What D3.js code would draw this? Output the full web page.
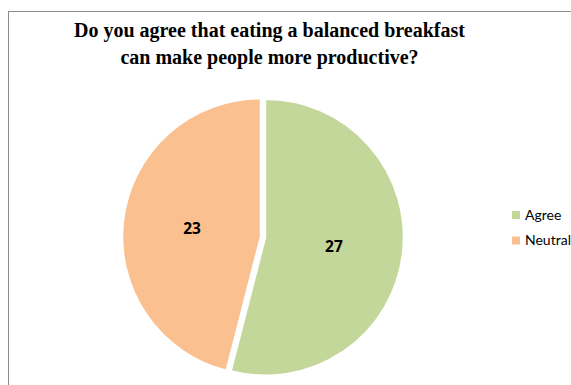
<!DOCTYPE html>
<html>
<head>
<meta charset="utf-8">
<script src="https://cdn.jsdelivr.net/npm/d3@7"></script>
<style>
  html, body { margin: 0; padding: 0; background: #fff; }
  svg { display: block; }
</style>
</head>
<body>
<svg id="chart" width="571" height="385"></svg>
<script>
// Survey answers
const categories = ["Agree", "Neutral"];
const counts = [27, 23];
const colors = ["#c4d79b", "#fac090"];
const titleLines = [
  "Do you agree that eating a balanced breakfast",
  "can make people more productive?"
];

const svg = d3.select("#chart");

// Chart frame (extends past the right and bottom edges)
svg.append("rect")
  .attr("x", 8.5).attr("y", 11.5)
  .attr("width", 600).attr("height", 400)
  .attr("fill", "none")
  .attr("stroke", "#8c8c8c")
  .attr("stroke-width", 1);

// Title
svg.append("g").selectAll("text")
  .data(titleLines)
  .join("text")
  .attr("x", 269.5)
  .attr("y", (d, i) => 37 + i * 26.5)
  .attr("text-anchor", "middle")
  .attr("font-family", "'Liberation Serif', 'Times New Roman', serif")
  .attr("font-weight", "bold")
  .attr("font-size", 20)
  .attr("fill", "#000")
  .text(d => d);

// Pie
const cx = 263, cy = 237, r = 138, explode = 2.5;
const pie = d3.pie().sort(null).value(d => d.value);
const arcs = pie(categories.map((c, i) => ({ name: c, value: counts[i], color: colors[i] })));
const arc = d3.arc().innerRadius(0).outerRadius(r);
const labelArc = d3.arc().innerRadius(r * 0.5).outerRadius(r * 0.5);

const g = svg.append("g").attr("transform", `translate(${cx},${cy})`);

const slice = g.selectAll("g.slice")
  .data(arcs)
  .join("g")
  .attr("class", "slice")
  .attr("transform", d => {
    const a = (d.startAngle + d.endAngle) / 2;
    return `translate(${Math.sin(a) * explode},${-Math.cos(a) * explode})`;
  });

slice.append("path")
  .attr("d", arc)
  .attr("fill", d => d.data.color)
  .attr("stroke", "#fff")
  .attr("stroke-width", 1.5);

slice.append("text")
  .attr("transform", d => `translate(${labelArc.centroid(d)})`)
  .attr("text-anchor", "middle")
  .attr("dy", "0.36em")
  .attr("font-family", "'Open Sans', Lato, sans-serif")
  .attr("font-weight", "bold")
  .attr("font-size", 15.5)
  .attr("fill", "#000")
  .text(d => d.data.value);

// Legend
const legend = svg.append("g").attr("transform", "translate(512,210)");
const item = legend.selectAll("g")
  .data(categories)
  .join("g")
  .attr("transform", (d, i) => `translate(0,${i * 25.5})`);

item.append("rect")
  .attr("width", 8).attr("height", 8)
  .attr("y", 1)
  .attr("fill", (d, i) => colors[i]);

item.append("text")
  .attr("x", 13)
  .attr("y", 9.8)
  .attr("font-family", "Lato, 'Open Sans', sans-serif")
  .attr("font-size", 14)
  .attr("fill", "#000")
  .text(d => d);
</script>
</body>
</html>
